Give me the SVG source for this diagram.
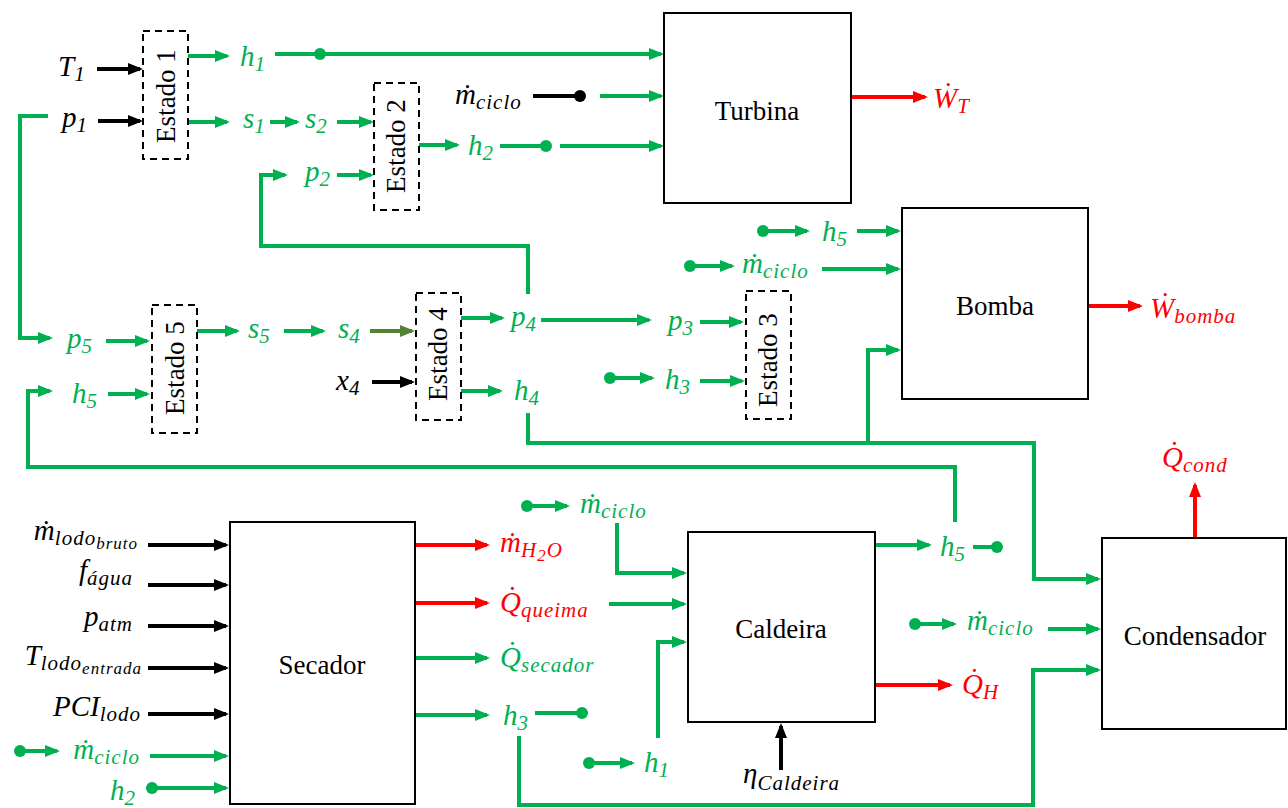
<svg xmlns="http://www.w3.org/2000/svg" width="1288" height="808" viewBox="0 0 1288 808">
<style>
.g{stroke:#00B050;stroke-width:4;fill:none}
.r{stroke:#FF0000;stroke-width:4;fill:none}
.k{stroke:#000;stroke-width:4;fill:none}
.o{stroke:#548235;stroke-width:4;fill:none}
.ga{marker-end:url(#ag)}
.ra{marker-end:url(#ar)}
.ka{marker-end:url(#ak)}
.oa{marker-end:url(#ao)}
.dg{fill:#00B050}
.dk{fill:#000}
.box{fill:#fff;stroke:#000;stroke-width:2}
.est{fill:none;stroke:#000;stroke-width:2;stroke-dasharray:7 5}
.m{font-family:"Liberation Serif","Times New Roman",serif;font-style:italic;font-size:29px}
.s{font-size:21px;letter-spacing:1px}
.ss{font-size:17px;letter-spacing:1px}
.tg{fill:#00B050}
.tr{fill:#FF0000}
.tk{fill:#000}
.lbl{font-family:"Liberation Serif","Times New Roman",serif;font-size:27px;fill:#000}
</style>
<defs>
<marker id="ag" markerUnits="userSpaceOnUse" markerWidth="15" markerHeight="12" viewBox="0 0 15 12" refX="12" refY="6" orient="auto"><path d="M0,0 L15,6 L0,12 z" fill="#00B050"/></marker>
<marker id="ar" markerUnits="userSpaceOnUse" markerWidth="15" markerHeight="12" viewBox="0 0 15 12" refX="12" refY="6" orient="auto"><path d="M0,0 L15,6 L0,12 z" fill="#FF0000"/></marker>
<marker id="ak" markerUnits="userSpaceOnUse" markerWidth="15" markerHeight="12" viewBox="0 0 15 12" refX="12" refY="6" orient="auto"><path d="M0,0 L15,6 L0,12 z" fill="#000"/></marker>
<marker id="ao" markerUnits="userSpaceOnUse" markerWidth="15" markerHeight="12" viewBox="0 0 15 12" refX="12" refY="6" orient="auto"><path d="M0,0 L15,6 L0,12 z" fill="#548235"/></marker>
</defs>
<rect width="1288" height="808" fill="#fff"/>

<g id="connectors">
<path class="k ka" d="M97,69 H140"/>
<path class="k ka" d="M98,121 H140"/>
<path class="g ga" d="M188,56 H227"/>
<path class="g ga" d="M275,54 H661"/>
<circle class="dg" cx="320" cy="54" r="6"/>
<path class="g ga" d="M188,122 H227"/>
<path class="g ga" d="M270,122 H297"/>
<path class="g ga" d="M337,122 H371"/>
<path class="g ga" d="M337,175 H371"/>
<path class="g ga" d="M528,294 V246 H261 V175 H285"/>
<path class="g ga" d="M419,145 H457"/>
<path class="g" d="M500,146 H546"/>
<circle class="dg" cx="546" cy="146" r="6"/>
<path class="g ga" d="M560,146 H661"/>
<path class="k" d="M533,96 H580"/>
<circle class="dk" cx="580" cy="96" r="6"/>
<path class="g ga" d="M600,96 H661"/>
<path class="r ra" d="M851,97 H925"/>
<path class="g ga" d="M48,116 H20 V338 H50"/>
<path class="g ga" d="M106,341 H147"/>
<path class="g ga" d="M108,394 H147"/>
<path class="g ga" d="M955,522 V467 H28 V391 H50"/>
<path class="g ga" d="M197,331 H237"/>
<path class="g ga" d="M284,331 H323"/>
<path class="o oa" d="M370,331 H412"/>
<path class="k ka" d="M372,382 H412"/>
<path class="g ga" d="M461,318 H502"/>
<path class="g ga" d="M541,320 H649"/>
<path class="g ga" d="M461,391 H500"/>
<path class="g ga" d="M700,322 H741"/>
<path class="g ga" d="M700,381 H742"/>
<path class="g ga" d="M610,378 H652"/>
<circle class="dg" cx="610" cy="378" r="6"/>
<path class="g ga" d="M528,413 V443 H1034 V579 H1098"/>
<path class="g ga" d="M868,443 V350 H898"/>
<path class="g ga" d="M763,231 H807"/>
<circle class="dg" cx="763" cy="231" r="6"/>
<path class="g ga" d="M857,231 H898"/>
<path class="g ga" d="M690,266 H732"/>
<circle class="dg" cx="690" cy="266" r="6"/>
<path class="g ga" d="M822,269 H898"/>
<path class="r ra" d="M1088,306 H1140"/>
<path class="k ka" d="M148,545 H226"/>
<path class="k ka" d="M148,585 H226"/>
<path class="k ka" d="M148,626 H226"/>
<path class="k ka" d="M148,668 H226"/>
<path class="k ka" d="M148,714 H226"/>
<path class="g ga" d="M20,751 H57"/>
<circle class="dg" cx="20" cy="751" r="6"/>
<path class="g ga" d="M150,756 H226"/>
<path class="g ga" d="M152,788 H226"/>
<circle class="dg" cx="152" cy="788" r="6"/>
<path class="r ra" d="M415,545 H487"/>
<path class="r ra" d="M415,603 H487"/>
<path class="g ga" d="M415,658 H487"/>
<path class="g ga" d="M415,715 H487"/>
<path class="g" d="M535,713 H582"/>
<circle class="dg" cx="582" cy="713" r="6"/>
<path class="g ga" d="M519,736 V805 H1033 V670 H1098"/>
<path class="g ga" d="M527,506 H567"/>
<circle class="dg" cx="527" cy="506" r="6"/>
<path class="g ga" d="M617,523 V573 H684"/>
<path class="g ga" d="M609,604 H684"/>
<path class="g ga" d="M589,763 H632"/>
<circle class="dg" cx="589" cy="763" r="6"/>
<path class="g ga" d="M658,738 V642 H684"/>
<path class="k ka" d="M781,770 V726"/>
<path class="g ga" d="M875,545 H929"/>
<path class="g" d="M973,547 H997"/>
<circle class="dg" cx="997" cy="547" r="6"/>
<path class="g ga" d="M915,624 H954"/>
<circle class="dg" cx="915" cy="624" r="6"/>
<path class="g ga" d="M1048,629 H1098"/>
<path class="r ra" d="M875,685 H950"/>
<path class="r ra" d="M1195,538 V485"/>
</g>

<g id="estado1"><rect class="est" x="143" y="31" width="45" height="128"/><text class="lbl" transform="translate(166,96) rotate(-90)" y="9" text-anchor="middle">Estado 1</text></g>
<g id="estado2"><rect class="est" x="374" y="83" width="45" height="127"/><text class="lbl" transform="translate(396,146) rotate(-90)" y="9" text-anchor="middle">Estado 2</text></g>
<g id="estado5"><rect class="est" x="152" y="305" width="45" height="128"/><text class="lbl" transform="translate(175,368) rotate(-90)" y="9" text-anchor="middle">Estado 5</text></g>
<g id="estado4"><rect class="est" x="416" y="293" width="45" height="127"/><text class="lbl" transform="translate(438,354) rotate(-90)" y="9" text-anchor="middle">Estado 4</text></g>
<g id="estado3"><rect class="est" x="746" y="291" width="45" height="128"/><text class="lbl" transform="translate(768,360) rotate(-90)" y="9" text-anchor="middle">Estado 3</text></g>

<g id="turbina"><rect class="box" x="664" y="13" width="187" height="190"/><text class="lbl" x="757" y="120" text-anchor="middle">Turbina</text></g>
<g id="bomba"><rect class="box" x="902" y="208" width="186" height="191"/><text class="lbl" x="995" y="315" text-anchor="middle">Bomba</text></g>
<g id="secador"><rect class="box" x="230" y="522" width="185" height="282"/><text class="lbl" x="322" y="674" text-anchor="middle">Secador</text></g>
<g id="caldeira"><rect class="box" x="688" y="532" width="187" height="190"/><text class="lbl" x="781" y="638" text-anchor="middle">Caldeira</text></g>
<g id="condensador"><rect class="box" x="1102" y="538" width="184" height="191"/><text class="lbl" x="1195" y="645" text-anchor="middle">Condensador</text></g>

<g id="labels">
<text class="m tk" x="58" y="76">T<tspan class="s" dy="5">1</tspan></text>
<text class="m tk" x="62" y="127">p<tspan class="s" dy="5">1</tspan></text>
<text class="m tg" x="240" y="66">h<tspan class="s" dy="5">1</tspan></text>
<text class="m tg" x="243" y="128">s<tspan class="s" dy="5">1</tspan></text>
<text class="m tg" x="305" y="128">s<tspan class="s" dy="5">2</tspan></text>
<text class="m tg" x="305" y="181">p<tspan class="s" dy="5">2</tspan></text>
<text class="m tg" x="468" y="155">h<tspan class="s" dy="5">2</tspan></text>
<text class="m tk" x="455" y="104">ṁ<tspan class="s" dy="5">ciclo</tspan></text>
<text class="m tr" x="933" y="108">Ẇ<tspan class="s" dy="5">T</tspan></text>
<text class="m tg" x="822" y="241">h<tspan class="s" dy="5">5</tspan></text>
<text class="m tg" x="742" y="273">ṁ<tspan class="s" dy="5">ciclo</tspan></text>
<text class="m tr" x="1150" y="318">Ẇ<tspan class="s" dy="5">bomba</tspan></text>
<text class="m tg" x="67" y="348">p<tspan class="s" dy="5">5</tspan></text>
<text class="m tg" x="72" y="403">h<tspan class="s" dy="5">5</tspan></text>
<text class="m tg" x="248" y="338">s<tspan class="s" dy="5">5</tspan></text>
<text class="m tg" x="338" y="338">s<tspan class="s" dy="5">4</tspan></text>
<text class="m tk" x="336" y="390">x<tspan class="s" dy="5">4</tspan></text>
<text class="m tg" x="511" y="326">p<tspan class="s" dy="5">4</tspan></text>
<text class="m tg" x="514" y="400">h<tspan class="s" dy="5">4</tspan></text>
<text class="m tg" x="668" y="330">p<tspan class="s" dy="5">3</tspan></text>
<text class="m tg" x="665" y="389">h<tspan class="s" dy="5">3</tspan></text>
<text class="m tk" x="138" y="540" text-anchor="end">ṁ<tspan class="s" dy="5">lodo</tspan><tspan class="ss" dy="4">bruto</tspan></text>
<text class="m tk" x="133" y="580" text-anchor="end">f<tspan class="s" dy="5">água</tspan></text>
<text class="m tk" x="133" y="626" text-anchor="end">p<tspan class="s" dy="5">atm</tspan></text>
<text class="m tk" x="142" y="665" text-anchor="end">T<tspan class="s" dy="5">lodo</tspan><tspan class="ss" dy="4">entrada</tspan></text>
<text class="m tk" x="141" y="716" text-anchor="end">PCI<tspan class="s" dy="5">lodo</tspan></text>
<text class="m tg" x="140" y="759" text-anchor="end">ṁ<tspan class="s" dy="5">ciclo</tspan></text>
<text class="m tg" x="136" y="800" text-anchor="end">h<tspan class="s" dy="5">2</tspan></text>
<text class="m tr" x="500" y="552">ṁ<tspan class="s" dy="5">H</tspan><tspan class="ss" dy="4">2</tspan><tspan class="s" dy="-4">O</tspan></text>
<text class="m tr" x="500" y="612">Q̇<tspan class="s" dy="5">queima</tspan></text>
<text class="m tg" x="500" y="667">Q̇<tspan class="s" dy="5">secador</tspan></text>
<text class="m tg" x="503" y="725">h<tspan class="s" dy="5">3</tspan></text>
<text class="m tg" x="580" y="513">ṁ<tspan class="s" dy="5">ciclo</tspan></text>
<text class="m tg" x="644" y="772">h<tspan class="s" dy="5">1</tspan></text>
<text class="m tk" x="743" y="783">η<tspan class="s" dy="7">Caldeira</tspan></text>
<text class="m tg" x="940" y="556">h<tspan class="s" dy="5">5</tspan></text>
<text class="m tg" x="967" y="630">ṁ<tspan class="s" dy="5">ciclo</tspan></text>
<text class="m tr" x="962" y="694">Q̇<tspan class="s" dy="5">H</tspan></text>
<text class="m tr" x="1162" y="467">Q̇<tspan class="s" dy="5">cond</tspan></text>
</g>
</svg>
